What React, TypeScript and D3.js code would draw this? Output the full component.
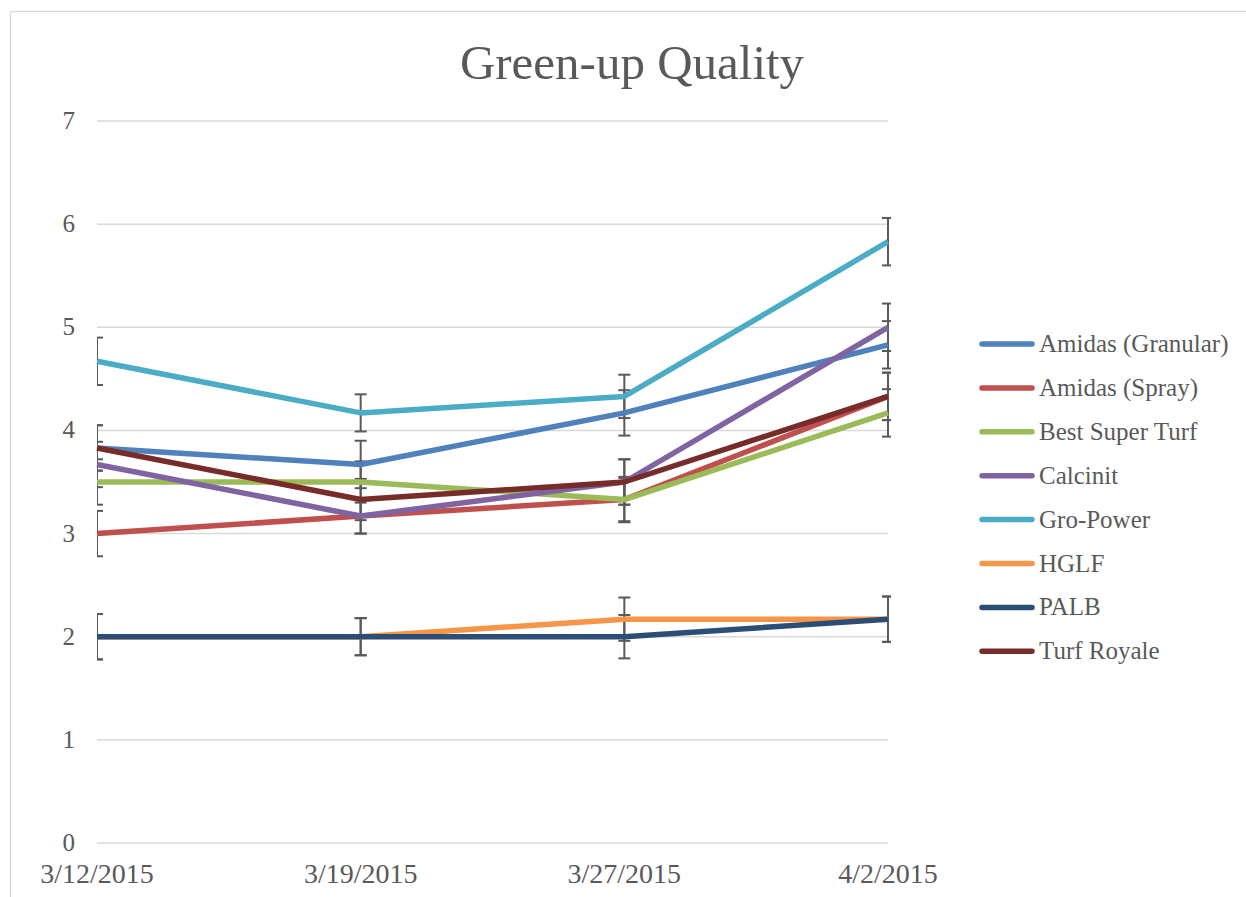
import React, { useRef, useEffect } from "react";
import * as d3 from "d3";

const dates = ["3/12/2015", "3/19/2015", "3/27/2015", "4/2/2015"];
const seriesNames = [
  "Amidas (Granular)",
  "Amidas (Spray)",
  "Best Super Turf",
  "Calcinit",
  "Gro-Power",
  "HGLF",
  "PALB",
  "Turf Royale",
];
const seriesColors = [
  "#4F81BD",
  "#C0504D",
  "#9BBB59",
  "#8064A2",
  "#4BACC6",
  "#F79646",
  "#2C4D75",
  "#772C2A",
];
const amidasGranular = [3.83, 3.67, 4.17, 4.83];
const amidasSpray = [3.0, 3.17, 3.33, 4.33];
const bestSuperTurf = [3.5, 3.5, 3.33, 4.17];
const calcinit = [3.67, 3.17, 3.5, 5.0];
const groPower = [4.67, 4.17, 4.33, 5.83];
const hglf = [2.0, 2.0, 2.17, 2.17];
const palb = [2.0, 2.0, 2.0, 2.17];
const turfRoyale = [3.83, 3.33, 3.5, 4.33];
const seriesValues = [amidasGranular, amidasSpray, bestSuperTurf, calcinit, groPower, hglf, palb, turfRoyale];

// error bar half-lengths, one per date
const errGranular = [0.22, 0.23, 0.22, 0.23];
const errSpray = [0.22, 0.17, 0.22, 0.23];
const errBest = [0.22, 0.2, 0.21, 0.23];
const errCalcinit = [0.22, 0.17, 0.22, 0.23];
const errGroPower = [0.23, 0.18, 0.21, 0.23];
const errHglf = [0.22, 0.18, 0.21, 0.22];
const errPalb = [0.22, 0.18, 0.21, 0.22];
const errTurf = [0.22, 0.2, 0.22, 0.23];
const seriesErrors = [errGranular, errSpray, errBest, errCalcinit, errGroPower, errHglf, errPalb, errTurf];

const yTicks = [0, 1, 2, 3, 4, 5, 6, 7];

const W = 1246;
const H = 897;
const FONT = "'Liberation Serif', serif";

const App: React.FC = () => {
  const svgRef = useRef<SVGSVGElement | null>(null);

  useEffect(() => {
    const svg = d3.select(svgRef.current);
    svg.selectAll("*").remove();

    const left = 97;
    const right = 888;
    const top = 121;
    const bottom = 843;

    const x = d3.scalePoint<string>().domain(dates).range([left, right]).padding(0);
    const y = d3.scaleLinear().domain([0, 7]).range([bottom, top]);

    svg.append("rect").attr("width", W).attr("height", H).attr("fill", "#fff");

    // chart border
    svg
      .append("rect")
      .attr("x", 10.5)
      .attr("y", 11.5)
      .attr("width", W + 20)
      .attr("height", H + 20)
      .attr("fill", "none")
      .attr("stroke", "#d9d9d9")
      .attr("stroke-width", 1.3);

    // title
    svg
      .append("text")
      .attr("x", 632)
      .attr("y", 79)
      .attr("text-anchor", "middle")
      .attr("font-family", FONT)
      .attr("font-size", 49)
      .attr("fill", "#595959")
      .text("Green-up Quality");

    // gridlines
    svg
      .append("g")
      .selectAll("line")
      .data(yTicks)
      .enter()
      .append("line")
      .attr("x1", left)
      .attr("x2", right)
      .attr("y1", (d) => y(d))
      .attr("y2", (d) => y(d))
      .attr("stroke", "#d9d9d9")
      .attr("stroke-width", 1.5);

    // y tick labels
    svg
      .append("g")
      .selectAll("text")
      .data(yTicks)
      .enter()
      .append("text")
      .attr("x", 75)
      .attr("y", (d) => y(d) + 8)
      .attr("text-anchor", "end")
      .attr("font-family", FONT)
      .attr("font-size", 25)
      .attr("fill", "#595959")
      .text((d) => String(d));

    // x tick labels
    svg
      .append("g")
      .selectAll("text")
      .data(dates)
      .enter()
      .append("text")
      .attr("x", (d) => x(d)!)
      .attr("y", 883)
      .attr("text-anchor", "middle")
      .attr("font-family", FONT)
      .attr("font-size", 28)
      .attr("fill", "#595959")
      .text((d) => d);

    // error bars, clipped to the plot area
    const defs = svg.append("defs");
    defs
      .append("clipPath")
      .attr("id", "plotClip")
      .append("rect")
      .attr("x", left)
      .attr("y", 0)
      .attr("width", right - left + 3)
      .attr("height", H);

    const errG = svg.append("g").attr("clip-path", "url(#plotClip)");
    const cap = 6;
    seriesValues.forEach((vals, si) => {
      vals.forEach((v, i) => {
        const e = seriesErrors[si][i];
        const cx = x(dates[i])!;
        const y1 = y(v + e);
        const y2 = y(v - e);
        const g = errG.append("g").attr("stroke", "#595959").attr("stroke-width", 2);
        g.append("line").attr("x1", cx).attr("x2", cx).attr("y1", y1).attr("y2", y2);
        g.append("line").attr("x1", cx - cap).attr("x2", cx + cap).attr("y1", y1).attr("y2", y1);
        g.append("line").attr("x1", cx - cap).attr("x2", cx + cap).attr("y1", y2).attr("y2", y2);
      });
    });

    // series lines
    const line = d3
      .line<number>()
      .x((_, i) => x(dates[i])!)
      .y((d) => y(d));

    seriesValues.forEach((vals, si) => {
      svg
        .append("path")
        .datum(vals)
        .attr("fill", "none")
        .attr("stroke", seriesColors[si])
        .attr("stroke-width", 5.5)
        .attr("stroke-linejoin", "round")
        .attr("d", line);
    });

    // legend
    const legend = svg.append("g").attr("transform", "translate(980, 344)");
    seriesNames.forEach((name, i) => {
      const row = legend.append("g").attr("transform", `translate(0, ${i * 43.9})`);
      row
        .append("line")
        .attr("x1", 2)
        .attr("x2", 52)
        .attr("y1", 0)
        .attr("y2", 0)
        .attr("stroke", seriesColors[i])
        .attr("stroke-width", 5.5)
        .attr("stroke-linecap", "round");
      row
        .append("text")
        .attr("x", 59)
        .attr("y", 8)
        .attr("font-family", FONT)
        .attr("font-size", 25)
        .attr("fill", "#595959")
        .text(name);
    });
  }, []);

  return (
    <div style={{ position: "absolute", left: 0, top: 0 }}>
      <svg ref={svgRef} width={W} height={H} style={{ display: "block" }}></svg>
    </div>
  );
};

export default App;
